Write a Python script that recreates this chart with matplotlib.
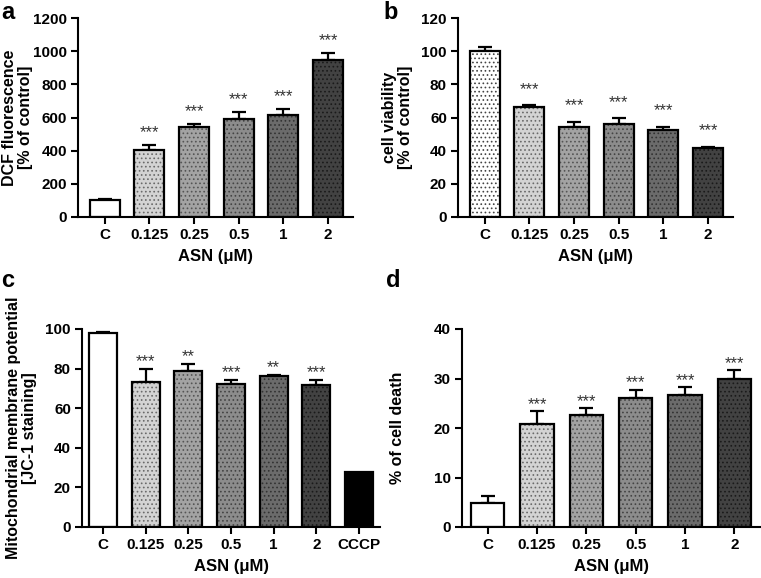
import matplotlib
matplotlib.use("Agg")
import matplotlib.pyplot as plt
from matplotlib.transforms import offset_copy
import numpy as np

plt.rcParams['font.family'] = ['Liberation Sans', 'DejaVu Sans']
plt.rcParams['hatch.linewidth'] = 0.7

# ---- data ----
cats6 = ["C", "0.125", "0.25", "0.5", "1", "2"]
cats7 = ["C", "0.125", "0.25", "0.5", "1", "2", "CCCP"]

a_vals = [101, 403, 545, 591, 615, 948]
a_err = [8, 31, 14, 40, 36, 40]
a_sig = ["", "***", "***", "***", "***", "***"]

b_vals = [100, 66.2, 54.5, 56.0, 52.6, 41.7]
b_err = [2.5, 1.2, 3.0, 3.5, 1.8, 0.6]
b_sig = ["", "***", "***", "***", "***", "***"]

c_vals = [98.0, 73.1, 78.6, 72.1, 76.1, 71.5, 27.9]
c_err = [0.7, 6.7, 3.7, 2.1, 0.7, 2.7, 0.0]
c_sig = ["", "***", "**", "***", "**", "***", ""]

d_vals = [4.9, 20.9, 22.7, 26.0, 26.7, 30.0]
d_err = [1.4, 2.5, 1.3, 1.7, 1.5, 1.7]
d_sig = ["", "***", "***", "***", "***", "***"]

fills6 = ["#ffffff", "#d3d3d3", "#a3a3a3", "#8c8c8c", "#6b6b6b", "#424242"]
dots6 = ["#444444", "#6a6a6a", "#555555", "#444444", "#333333", "#1a1a1a"]

W, H = 761, 578
fig = plt.figure(figsize=(W / 100, H / 100), dpi=100)


def make_ax(left, right, top, bottom):
    return fig.add_axes([left / W, 1 - bottom / H, (right - left) / W, (bottom - top) / H])


def panel(ax, cats, vals, errs, sigs, fills, dots, hatch_c, ymax, ystep, xlim, width,
          ylabel, star_px, label_x):
    x = np.arange(len(cats))
    for i in range(len(cats)):
        ax.bar(x[i], vals[i], width=width, color=fills[i], edgecolor='none', zorder=2)
        if hatch_c[i]:
            ax.bar(x[i], vals[i], width=width, fill=False, edgecolor=dots[i],
                   hatch='....', linewidth=0, zorder=3)
        ax.bar(x[i], vals[i], width=width, fill=False, edgecolor='black',
               linewidth=1.6, zorder=4)
    errs_arr = np.array(errs, dtype=float)
    mask = errs_arr > 0
    ax.errorbar(x[mask], np.array(vals)[mask], yerr=[np.zeros(mask.sum()), errs_arr[mask]],
                fmt='none', ecolor='black', elinewidth=1.6, capsize=5, capthick=1.6, zorder=1)
    # star glyph centre sits ~0.58 em above baseline (12 pt -> ~9.7 px)
    trans = offset_copy(ax.transData, fig=fig, x=0, y=(star_px - 9.7) * 0.72, units='points')
    for i, s in enumerate(sigs):
        if s:
            ax.text(x[i], vals[i] + errs[i], s, ha='center', va='baseline',
                    fontsize=12, color='#333333', transform=trans)
    ax.set_ylim(0, ymax)
    ax.set_yticks(np.arange(0, ymax + ystep / 2, ystep))
    ax.set_xlim(*xlim)
    ax.set_xticks(x)
    ax.set_xticklabels(cats)
    for sp in ['top', 'right']:
        ax.spines[sp].set_visible(False)
    for sp in ['left', 'bottom']:
        ax.spines[sp].set_linewidth(1.5)
    ax.tick_params(axis='both', direction='out', length=5, width=1.5, labelsize=11, pad=3)
    for lab in ax.get_xticklabels() + ax.get_yticklabels():
        lab.set_fontweight('bold')
    ax.set_xlabel("ASN (\u03bcM)", fontsize=12, fontweight='bold', labelpad=5)
    ax.set_ylabel(ylabel, fontsize=11.5, fontweight='bold', linespacing=1.05)
    ax.yaxis.set_label_coords(label_x, 0.5)


ax_a = make_ax(78, 353, 18, 217)
panel(ax_a, cats6, a_vals, a_err, a_sig, fills6, dots6, [False] + [True] * 5,
      1200, 200, (-0.6, 5.56), 0.67, "DCF fluorescence\n[% of control]", 18, -0.164)

ax_b = make_ax(458, 733, 18, 217)
panel(ax_b, cats6, b_vals, b_err, b_sig, fills6, dots6, [True] * 6,
      120, 20, (-0.6, 5.56), 0.67, "cell viability\n[% of control]", 21, -0.164)

ax_c = make_ax(82, 380, 329, 527)
fills7 = fills6 + ["#000000"]
dots7 = dots6 + ["#000000"]
panel(ax_c, cats7, c_vals, c_err, c_sig, fills7, dots7, [False] + [True] * 5 + [False],
      100, 20, (-0.49, 6.49), 0.66, "Mitochondrial membrane potential\n[JC-1 staining]", 13, -0.151)

ax_d = make_ax(462, 760, 329, 527)
panel(ax_d, cats6, d_vals, d_err, d_sig, fills6, dots6, [False] + [True] * 5,
      40, 10, (-0.52, 5.52), 0.67, "% of cell death", 12, -0.191)

for letter, px, py in [("a", 1, 1), ("b", 383, 1), ("c", 1, 269), ("d", 386, 269)]:
    fig.text(px / W, 1 - py / H, letter, fontsize=17, fontweight='bold', ha='left', va='top')

fig.savefig("out.png", dpi=100)
